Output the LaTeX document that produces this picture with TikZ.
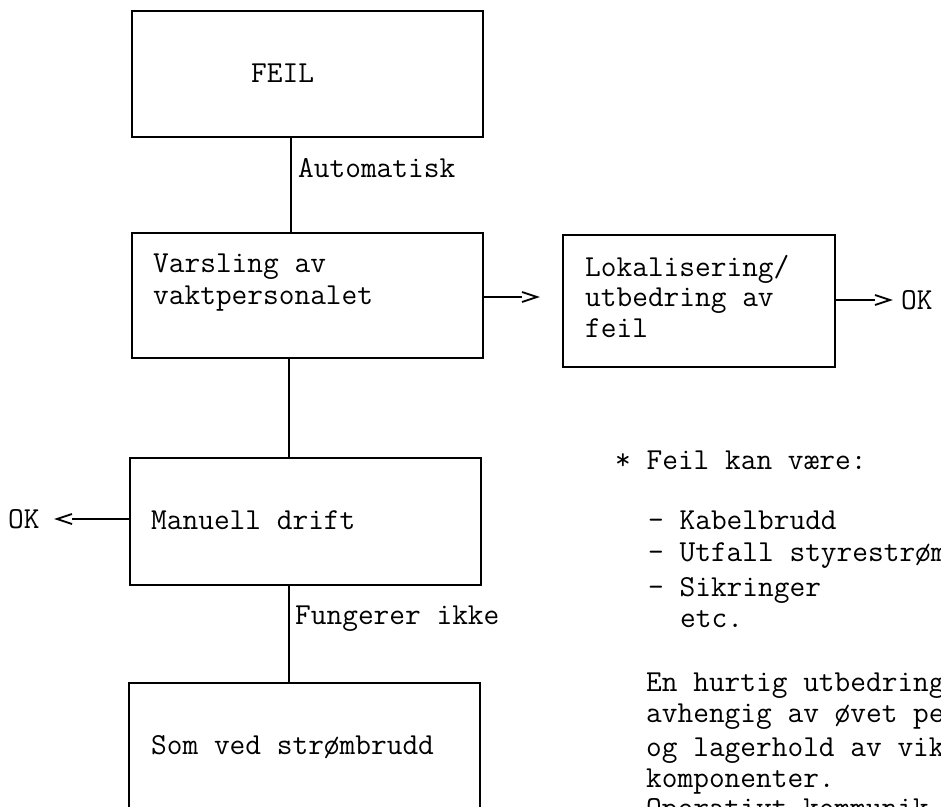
\documentclass[tikz,border=0pt]{standalone}
\usepackage{fontspec}
\usetikzlibrary{calc}
\newcommand\twfont{\ttfamily\fontsize{30.5}{32}\selectfont}
\begin{document}
\begin{tikzpicture}[x=1pt,y=-1pt,
  box/.style={draw, line width=1.8pt, inner sep=0pt, anchor=north west},
  conn/.style={line width=1.8pt},
  txt/.style={anchor=base west, inner sep=0pt, font=\twfont},
  chevr/.pic={\draw[line width=1.8pt] (0,-5) -- (15,0) -- (0,5);},
  chevl/.pic={\draw[line width=1.8pt] (0,-5) -- (-15,0) -- (0,5);}
]
\useasboundingbox (0,0) rectangle (941,806);
\clip (0,0) rectangle (941,806);

% boxes
\node[box, minimum width=351pt, minimum height=126pt] (feil) at (131,10) {};
\node[box, minimum width=351pt, minimum height=125pt] (vars) at (131,232) {};
\node[box, minimum width=272pt, minimum height=132pt] (lok) at (562,234) {};
\node[box, minimum width=351pt, minimum height=127pt] (man) at (129,457) {};
\node[box, minimum width=351pt, minimum height=140pt] (som) at (128,682) {};

% box texts
\node[txt] (tfeil) at (251,82) {FEIL};
\node[txt] (tv1) at (153,272) {Varsling av};
\node[txt] (tv2) at (153,304) {vaktpersonalet};
\node[txt] (tl1) at (585,276) {Lokalisering/};
\node[txt] (tl2) at (585,306) {utbedring av};
\node[txt] (tl3) at (585,337) {feil};
\node[txt] (tman) at (151,529) {Manuell drift};
\node[txt] (tsom) at (151,754) {Som ved strømbrudd};

% vertical connectors
\draw[conn] ($(feil.south west)+(160,0)$) -- ($(vars.north west)+(160,0)$);
\draw[conn] ($(vars.south west)+(158,0)$) -- ($(man.north west)+(160,0)$);
\draw[conn] ($(man.south west)+(160,0)$) -- ($(som.north west)+(161,0)$);
\node[txt] (lauto) at (298,177) {Automatisk};
\node[txt] (lfung) at (295,624) {Fungerer ikke};

% horizontal arrows
\coordinate (a1) at (522,297);
\draw[conn] ($(vars.north east)+(0,65)$) -- (a1);
\pic at (a1) {chevr};

\coordinate (a2) at (875,300);
\draw[conn] ($(lok.north east)+(0,66)$) -- (a2);
\pic at (a2) {chevr};
\node[txt] (ok1) at (901,309) {OK};

\coordinate (a3) at (72,519);
\draw[conn] ($(man.north west)+(0,62)$) -- (a3);
\pic at (a3) {chevl};
\node[txt] (ok2) at (8,528) {OK};

% right notes
\node[txt] (n0) at (615,469) {* Feil kan være:};
\node[txt] (n1) at (648,529) {- Kabelbrudd};
\node[txt] (n2) at (648,561) {- Utfall styrestrøm};
\node[txt] (n3) at (648,596) {- Sikringer};
\node[txt] (n4) at (680,627) {etc.};
\node[txt] (p1) at (646,691) {En hurtig utbedring};
\node[txt] (p2) at (646,722) {avhengig av øvet pe};
\node[txt] (p3) at (646,756) {og lagerhold av vik};
\node[txt] (p4) at (646,787) {komponenter.};
\node[txt] (p5) at (646,817) {Operativt kommunik};
\end{tikzpicture}
\end{document}
